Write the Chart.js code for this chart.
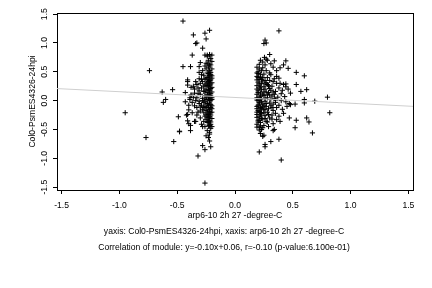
<!DOCTYPE html>
<html>
<head>
<meta charset="utf-8">
<script src="https://cdn.jsdelivr.net/npm/chart.js@4"></script>
<style>
html,body{margin:0;padding:0;background:#fff;}
canvas{display:block;}
</style>
</head>
<body>
<canvas id="c" width="432" height="288"></canvas>
<script>
// ---- data ----
const xTicks = [-1.5, -1.0, -0.5, 0.0, 0.5, 1.0, 1.5];
const yTicks = [-1.5, -1.0, -0.5, 0.0, 0.5, 1.0, 1.5];
const xTitle = "arp6-10 2h 27 -degree-C";
const yTitle = "Col0-PsmES4326-24hpi";
const caption1 = "yaxis: Col0-PsmES4326-24hpi, xaxis: arp6-10 2h 27 -degree-C";
const caption2 = "Correlation of module: y=-0.10x+0.06, r=-0.10 (p-value:6.100e-01)";
const fitLine = [[-1.55, 0.21], [1.55, -0.10]];

const leftOutliers = [
[-0.95,-0.21],[-0.77,-0.64],[-0.74,0.52],[-0.63,0.15],[-0.60,0.02],[-0.62,-0.03],[-0.54,0.19],
[-0.53,-0.71],[-0.48,-0.53],[-0.49,-0.28],[-0.45,0.59],[-0.385,0.59],[-0.31,0.59],[-0.30,0.66],
[-0.45,1.38],[-0.36,1.14],[-0.34,0.99],[-0.33,1.00],[-0.26,1.17],[-0.22,1.22],[-0.25,1.07],
[-0.28,0.91],[-0.37,0.79],[-0.26,0.79],[-0.24,0.79],[-0.22,0.80],[-0.385,-0.43],[-0.32,-0.96],
[-0.26,-1.43],[-0.28,-0.78],[-0.26,-0.85],[-0.21,-0.80],[-0.22,-0.70],[-0.25,-0.61],[-0.23,-0.64],
[-0.22,-0.58],[-0.29,-0.41],[-0.22,-0.43],[-0.41,-0.35],[-0.41,-0.24],[-0.37,-0.21],[-0.34,-0.36],
[-0.41,0.27],[-0.41,0.36],[-0.38,0.23],[-0.35,0.13],[-0.41,0.33],[-0.43,0.14],[-0.39,0.05],
[-0.38,0.09],[-0.40,-0.40],[-0.48,-0.54],[-0.385,-0.52],[-0.35,-0.36],[-0.42,-0.25],[-0.40,-0.16],
[-0.28,-0.45]
];
const leftCore = [
[-0.21,0.62],[-0.23,0.58],[-0.25,0.55],[-0.22,0.52],[-0.24,0.48],[-0.21,0.45],[-0.27,0.44],[-0.23,0.41],
[-0.20,0.39],[-0.25,0.37],[-0.22,0.35],[-0.28,0.33],[-0.24,0.31],[-0.21,0.29],[-0.26,0.27],[-0.23,0.25],
[-0.20,0.23],[-0.29,0.22],[-0.25,0.20],[-0.22,0.18],[-0.27,0.16],[-0.24,0.14],[-0.21,0.12],[-0.30,0.11],
[-0.26,0.09],[-0.23,0.07],[-0.20,0.05],[-0.28,0.04],[-0.25,0.02],[-0.22,0.00],[-0.31,-0.01],[-0.27,-0.03],
[-0.24,-0.05],[-0.21,-0.07],[-0.29,-0.08],[-0.26,-0.10],[-0.23,-0.12],[-0.20,-0.14],[-0.28,-0.15],[-0.25,-0.17],
[-0.22,-0.19],[-0.27,-0.21],[-0.24,-0.23],[-0.21,-0.25],[-0.26,-0.27],[-0.23,-0.29],[-0.20,-0.31],[-0.25,-0.33],
[-0.22,-0.35],[-0.24,-0.38],[-0.21,-0.41],[-0.23,-0.44],
[-0.22,0.44],[-0.24,0.40],[-0.21,0.36],[-0.23,0.33],[-0.25,0.29],[-0.22,0.27],[-0.20,0.31],[-0.24,0.26],
[-0.21,0.21],[-0.23,0.19],[-0.26,0.17],[-0.20,0.15],[-0.22,0.13],[-0.24,0.10],[-0.21,0.08],[-0.25,0.06],
[-0.23,0.03],[-0.21,0.01],[-0.26,-0.01],[-0.22,-0.04],[-0.24,-0.06],[-0.20,-0.09],[-0.25,-0.12],[-0.22,-0.15],
[-0.24,-0.18],[-0.21,-0.21],[-0.23,-0.24],[-0.22,-0.28],[-0.24,-0.30],
[-0.33,0.28],[-0.35,0.20],[-0.32,0.12],[-0.36,0.06],[-0.34,0.00],[-0.31,-0.05],[-0.37,-0.03],[-0.33,-0.12],
[-0.35,-0.09],[-0.30,-0.18],[-0.32,0.22],[-0.38,0.10],[-0.40,-0.08],[-0.39,0.02],[-0.43,-0.02],[-0.30,0.30],
[-0.31,0.38],[-0.29,0.45],[-0.28,0.52],[-0.26,0.60],[-0.25,0.65],[-0.23,0.70],[-0.21,0.73],[-0.24,0.77],
[-0.22,0.79],[-0.20,0.79],
[-0.27,-0.36],[-0.30,-0.30],[-0.26,-0.45],[-0.33,-0.25],[-0.21,-0.48],[-0.24,-0.52],[-0.22,-0.55],
[-0.20,0.55],[-0.22,0.62],[-0.20,0.68],[-0.24,0.64],[-0.21,0.49],[-0.23,0.47],[-0.20,0.43],[-0.20,0.02],
[-0.20,-0.20],[-0.21,-0.37],[-0.20,-0.45],[-0.23,-0.36],[-0.25,-0.25],[-0.27,-0.12],[-0.28,0.00],[-0.27,0.25],
[-0.26,0.38],[-0.22,0.09],[-0.21,-0.12],[-0.23,-0.09],
[-0.31,0.17],[-0.33,0.05],[-0.30,-0.11],[-0.34,0.33],[-0.32,-0.20],[-0.29,0.37],[-0.36,0.25],[-0.31,0.49]
];
const rightCore = [
[0.20,0.50],[0.22,0.45],[0.19,0.42],[0.24,0.40],[0.21,0.37],[0.26,0.35],[0.20,0.32],[0.23,0.30],[0.28,0.28],
[0.19,0.26],[0.25,0.24],[0.21,0.22],[0.30,0.21],[0.23,0.19],[0.20,0.17],[0.27,0.15],[0.22,0.13],[0.19,0.11],
[0.25,0.09],[0.32,0.08],[0.21,0.06],[0.28,0.05],[0.23,0.03],[0.19,0.01],[0.26,-0.01],[0.21,-0.03],[0.30,-0.04],
[0.24,-0.06],[0.20,-0.08],[0.27,-0.10],[0.22,-0.12],[0.19,-0.14],[0.25,-0.16],[0.33,-0.17],[0.21,-0.19],
[0.28,-0.20],[0.23,-0.22],[0.19,-0.24],[0.26,-0.26],[0.21,-0.28],[0.30,-0.30],[0.24,-0.32],[0.20,-0.34],
[0.27,-0.36],[0.22,-0.38],[0.19,-0.41],[0.25,-0.43],[0.21,-0.46],[0.23,-0.50],
[0.21,0.55],[0.19,0.58],[0.23,0.52],[0.20,0.47],[0.25,0.46],[0.22,0.41],[0.19,0.36],[0.24,0.34],[0.21,0.29],
[0.27,0.31],[0.19,0.20],[0.22,0.24],[0.26,0.20],[0.20,0.14],[0.24,0.11],[0.22,0.08],[0.19,0.05],[0.26,0.04],
[0.20,0.00],[0.23,-0.02],[0.21,-0.06],[0.25,-0.08],[0.19,-0.10],[0.23,-0.14],[0.20,-0.17],[0.25,-0.21],
[0.22,-0.25],[0.19,-0.29],[0.23,-0.31],[0.20,-0.37],[0.22,-0.44],
[0.20,0.40],[0.23,0.37],[0.26,0.29],[0.29,0.26],[0.31,0.18],[0.28,0.10],[0.31,0.02],[0.27,-0.05],[0.29,-0.14],
[0.26,-0.31],[0.28,-0.37],[0.24,-0.47],[0.21,-0.51],[0.34,0.04],[0.33,0.15],[0.35,-0.03],[0.30,0.48],[0.27,0.52],
[0.24,0.57],[0.19,0.48],[0.19,-0.20],[0.21,-0.34],[0.19,-0.46],[0.25,0.15],[0.22,0.03],[0.24,-0.11],[0.22,-0.21],
[0.26,-0.15],[0.32,-0.32],[0.36,0.42],[0.33,0.33],[0.30,0.10]
];
const rightSpread = [
[0.31,0.45],[0.34,0.38],[0.36,0.30],[0.32,0.25],[0.38,0.22],[0.35,0.16],[0.41,0.18],[0.34,0.11],[0.37,0.06],
[0.43,0.07],[0.35,0.01],[0.40,0.00],[0.33,-0.06],[0.38,-0.08],[0.44,-0.02],[0.36,-0.12],[0.32,-0.12],[0.41,-0.15],
[0.35,-0.22],[0.38,-0.27],[0.32,-0.25],[0.42,-0.22],[0.36,-0.33],[0.33,-0.40],[0.29,-0.45],[0.30,0.35],[0.28,0.40],
[0.29,0.14],[0.31,-0.09],[0.29,-0.24],[0.39,0.30],[0.42,0.28],[0.44,0.24],[0.46,0.20],[0.40,0.12],[0.48,0.13],
[0.45,-0.10],[0.47,-0.05],[0.39,-0.36],
[0.21,0.63],[0.26,0.62],[0.24,0.67],[0.28,0.70],[0.22,0.70],[0.30,0.80],[0.255,0.75],[0.27,0.72],[0.34,0.69],
[0.44,0.69],[0.42,0.62],[0.39,0.57],[0.46,0.56],[0.33,0.58],[0.36,0.52],[0.31,0.64],[0.38,1.21],[0.26,1.05],
[0.27,1.00],[0.25,0.99],[0.53,0.49],[0.60,0.43],[0.53,0.28],[0.57,0.16],[0.62,0.19],[0.60,0.02],[0.60,-0.04],
[0.69,-0.01],[0.80,0.06],[0.82,-0.21],[0.52,-0.06],[0.48,-0.07],[0.47,-0.30],[0.53,-0.34],[0.52,-0.47],
[0.62,-0.30],[0.64,-0.37],[0.67,-0.56],[0.40,-1.03],[0.38,-0.67],[0.31,-0.71],[0.26,-0.76],[0.26,-0.80],
[0.21,-0.89],[0.24,-0.62],[0.34,-0.50],[0.33,-0.52],[0.22,-0.57],[0.25,-0.60],[0.44,0.29],[0.38,0.39]
];

const toXY = a => a.map(p => ({x: p[0], y: p[1]}));
const FONT = '"Liberation Sans", Arial, Helvetica, sans-serif';
const FS = 8.6;

const boxPlugin = {
  id: 'box',
  beforeDatasetsDraw(chart) {
    const {ctx, chartArea: a} = chart;
    ctx.save();
    ctx.strokeStyle = '#000';
    ctx.lineWidth = 1;
    ctx.strokeRect(Math.round(a.left) + 0.5, Math.round(a.top) + 0.5,
                   Math.round(a.right - a.left), Math.round(a.bottom - a.top));
    ctx.restore();
  }
};
const captionPlugin = {
  id: 'captions',
  afterDraw(chart) {
    const ctx = chart.ctx;
    ctx.save();
    ctx.fillStyle = '#000';
    ctx.font = FS + 'px ' + FONT;
    ctx.textAlign = 'center';
    ctx.textBaseline = 'middle';
    ctx.fillText(caption1, 224, 232);
    ctx.fillText(caption2, 224, 248);
    ctx.restore();
  }
};

const pointsDs = {
  type: 'scatter',
  data: toXY(leftOutliers.concat(leftCore, rightCore, rightSpread)),
  pointStyle: 'cross',
  pointRadius: 2.6,
  pointBorderWidth: 1,
  borderColor: '#000',
  backgroundColor: '#000',
  order: 1
};
const lineDs = {
  type: 'line',
  data: toXY(fitLine),
  borderColor: '#cfcfcf',
  borderWidth: 1,
  pointRadius: 0,
  order: 0
};

new Chart(document.getElementById('c'), {
  data: { datasets: [pointsDs, lineDs] },
  options: {
    responsive: false,
    animation: false,
    devicePixelRatio: 1,
    layout: { padding: { left: 0, right: 19, top: 13, bottom: 0 } },
    plugins: { legend: { display: false }, tooltip: { enabled: false } },
    scales: {
      x: {
        type: 'linear', min: -1.54, max: 1.54,
        afterBuildTicks: s => { s.ticks = xTicks.map(v => ({value: v})); },
        afterFit: s => { s.height = 98; },
        border: { display: false },
        grid: { display: true, drawOnChartArea: false, drawTicks: true, tickLength: 4, tickColor: '#000', tickWidth: 1 },
        ticks: { color: '#000', font: { family: FONT, size: FS }, padding: 6, maxRotation: 0, autoSkip: false,
                 callback: v => Number(v).toFixed(1) },
        title: { display: true, text: xTitle, color: '#000', font: { family: FONT, size: FS },
                 padding: { top: 0, bottom: 67 } }
      },
      y: {
        type: 'linear', min: -1.55, max: 1.52,
        afterBuildTicks: s => { s.ticks = yTicks.map(v => ({value: v})); },
        afterFit: s => { s.width = 57; },
        border: { display: false },
        grid: { display: true, drawOnChartArea: false, drawTicks: true, tickLength: 4, tickColor: '#000', tickWidth: 1 },
        ticks: { color: '#000', font: { family: FONT, size: FS }, padding: 1, minRotation: 90, maxRotation: 90,
                 crossAlign: 'center', autoSkip: false, callback: v => Number(v).toFixed(1) },
        title: { display: true, text: yTitle, color: '#000', font: { family: FONT, size: FS },
                 padding: { top: 27, bottom: 0 } }
      }
    }
  },
  plugins: [boxPlugin, captionPlugin]
});
</script>
</body>
</html>
